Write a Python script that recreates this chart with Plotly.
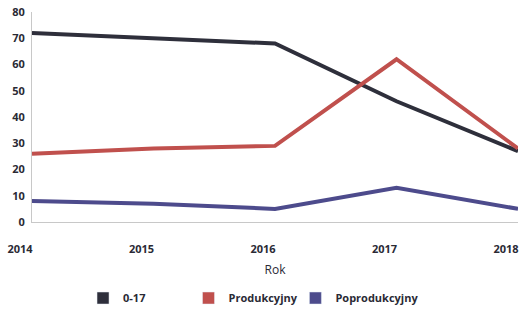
import plotly.graph_objects as go

years = [2014, 2015, 2016, 2017, 2018]
age_0_17 = [72, 70, 68, 46, 27]
produkcyjny = [26, 28, 29, 62, 28]
poprodukcyjny = [8, 7, 5, 13, 5]
series_names = ["0-17", "Produkcyjny", "Poprodukcyjny"]
colors = ["#2e2f3b", "#c0504d", "#4d4b8c"]
legend_ids = ["legend", "legend2", "legend3"]
legend_x = [0.105, 0.322, 0.542]

fig = go.Figure()
for name, vals, col in zip(series_names, [age_0_17, produkcyjny, poprodukcyjny], colors):
    fig.add_trace(go.Scatter(x=years, y=vals, mode="lines", name=name,
                             showlegend=False, line=dict(color=col, width=4)))
for name, col, lid in zip(series_names, colors, legend_ids):
    # legend-only square swatch (no data drawn)
    fig.add_trace(go.Bar(x=[None], y=[None], name=name, legend=lid,
                         marker=dict(color=col), showlegend=True))

leg_common = dict(orientation="h", xanchor="left", y=-0.362, yanchor="middle",
                  font=dict(size=11, weight="bold", color="#2a2a35"), itemwidth=30,
                  bgcolor="rgba(0,0,0,0)")

fig.update_layout(
    width=530, height=309,
    margin=dict(l=32, r=12, t=12, b=87, autoexpand=False),
    paper_bgcolor="white", plot_bgcolor="white",
    font=dict(family="Open Sans", color="#2a2a35"),
    showlegend=True,
    legend=dict(x=legend_x[0], **leg_common),
    legend2=dict(x=legend_x[1], **leg_common),
    legend3=dict(x=legend_x[2], **leg_common),
    xaxis=dict(range=[2014, 2018], tickvals=years, ticktext=[str(y) for y in years],
               showgrid=False, zeroline=False, showline=True, linecolor="#c8c8c8",
               linewidth=1, ticks="", ticklabeloverflow="allow", ticklabelstandoff=17,
               ticklabelshift=-12,
               tickfont=dict(size=11, family="Open Sans", weight="bold"),
               title=dict(text="Rok", font=dict(size=12), standoff=10)),
    yaxis=dict(range=[0, 80], dtick=10, showgrid=False, zeroline=False, showline=True,
               linecolor="#c8c8c8", linewidth=1, ticks="", ticklabelstandoff=4,
               tickfont=dict(size=11, family="Open Sans", weight="bold")),
)

fig.write_html("out.html", config={"displayModeBar": False},
               post_script="document.body.style.margin='0';document.body.style.overflow='hidden';")
